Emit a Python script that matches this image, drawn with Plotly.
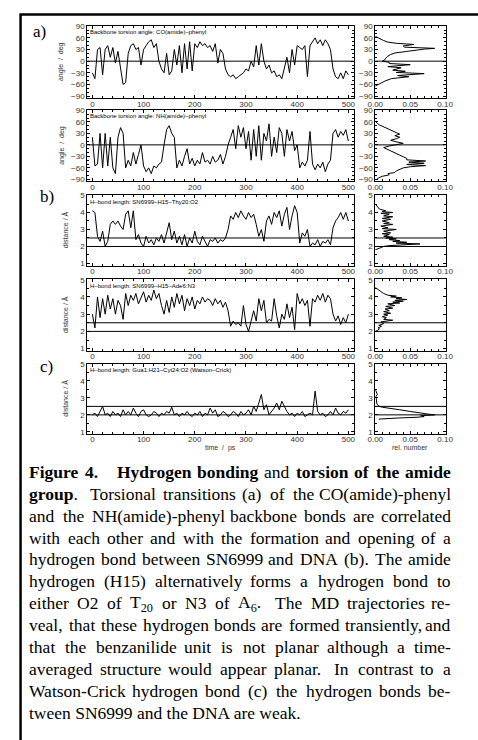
import re
import json
import plotly.graph_objects as go

W, H = 478, 740

# ---------------- data ----------------
time_ps = list(range(0, 501, 5))

co_phenyl_deg = [-30, -45, 30, 35, -35, 30, 40, 10, 35, -5,
                 25, -20, -60, -55, 20, 40, 45, 30, 35, -10,
                 30, 40, 50, 55, 35, 45, 0, -20, -30, 20,
                 -35, -25, 30, -10, 40, -30, 45, -20, 50, -25,
                 45, 35, 50, 40, 45, 35, 40, 25, 45, -5,
                 30, 20, -20, -35, -40, -35, -45, -40, -35, -30,
                 -20, -25, 0, -15, 40, -10, 45, 0, -20, -10,
                 -30, -25, -40, -35, -45, -20, 10, -30, 30, -10,
                 40, 35, 30, 40, -40, 40, 50, 60, 45, 55,
                 40, 55, 45, 30, -20, -40, -45, -30, -45, -25,
                 -35]

nh_phenyl_deg = [20, -55, -50, 30, -60, 30, -55, 20, -60, -75,
                 20, 45, 30, -60, -40, -55, -20, -50, -25, 0,
                 -55, -70, -60, -75, -55, -60, -50, -45, 0, 40,
                 50, 30, 20, -60, -40, -55, -30, -10, -50, -35,
                 -55, -40, -50, -20, -45, -40, -50, -30, -45, -40,
                 -25, -50, -30, 0, 20, 40, -10, 50, 20, 45,
                 -10, 35, -40, 40, -30, 50, -40, 30, 10, 55,
                 -30, 20, -20, 45, 30, -30, 40, 10, 35, -15,
                 0, -60, -45, -55, -40, 35, -50, -65, -50, -60,
                 -45, -70, -50, -40, 30, 40, 20, 35, 25, 40,
                 10]

thy20_o2_A = [4.1, 4.0, 2.6, 2.3, 2.9, 2.0, 2.3, 3.3, 3.5, 3.3,
              3.5, 3.2, 3.0, 3.9, 4.1, 3.1, 4.1, 2.4, 2.7, 2.2,
              2.0, 2.6, 2.2, 2.4, 2.1, 2.5, 2.3, 2.7, 2.2, 2.8,
              3.4, 2.4, 2.9, 2.2, 2.6, 2.1, 2.7, 2.0, 2.5, 2.2,
              2.9, 2.3, 2.1, 2.6, 2.3, 2.0, 2.4, 2.3, 2.5, 2.2,
              2.4, 2.3, 2.5, 3.0, 3.8, 3.6, 4.0, 3.7, 4.1, 3.8,
              3.6, 4.0, 3.7, 3.9, 3.3, 2.6, 3.0, 2.3, 3.5, 3.8,
              3.3, 4.0, 3.7, 4.1, 3.2, 3.9, 4.3, 3.0, 3.8, 4.4,
              4.0, 2.2, 2.8, 2.6, 3.0, 2.0, 2.2, 2.1, 2.4, 2.0,
              2.3, 2.2, 2.4, 2.1, 3.1, 3.5, 3.7, 4.0, 3.6, 4.0,
              3.5]

ade6_n3_A = [3.0, 2.2, 4.0, 2.8, 3.9, 3.0, 4.1, 3.3, 3.9, 3.0,
             3.8, 3.5, 2.7, 4.2, 3.5, 4.1, 3.8, 4.2, 3.6, 4.0,
             4.3, 3.7, 4.1, 3.8, 4.4, 3.9, 4.2, 3.5, 3.0, 3.8,
             3.1, 4.0, 3.4, 4.2, 3.6, 4.1, 3.2, 3.9, 3.5, 4.0,
             3.3, 3.8, 3.6, 4.0, 3.7, 3.9, 3.8, 3.5, 3.9, 3.6,
             3.8, 3.4, 3.7, 3.2, 2.3, 2.6, 2.4, 2.5, 2.3, 3.5,
             2.4, 2.0, 2.7, 3.2, 2.6, 3.9, 3.2, 3.8, 2.5, 2.7,
             2.6, 3.9, 2.9, 2.2, 3.0, 2.7, 3.6, 2.8, 3.4, 2.1,
             4.2, 3.6, 3.9, 3.5, 3.8, 2.3, 3.9, 3.7, 4.1, 3.8,
             4.2, 3.7, 4.1, 3.9, 3.0, 2.6, 2.9, 2.4, 2.8, 2.5,
             3.0]

gua_cyt_A = [2.0, 2.1, 1.9, 2.2, 2.5, 2.0, 2.1, 1.9, 2.2, 2.0,
             2.1, 1.9, 2.3, 2.0, 2.2, 2.0, 2.4, 2.1, 1.9, 2.2,
             2.3, 2.0, 1.9, 2.0, 2.2, 2.1, 1.9, 2.1, 2.0, 2.2,
             2.1, 2.45, 2.0, 2.1, 1.9, 2.1, 2.0, 2.2, 2.0, 1.9,
             2.1, 2.0, 2.2, 1.9, 2.1, 2.0, 2.4, 2.1, 2.3, 1.9,
             2.0, 2.2, 2.1, 1.9, 2.0, 2.2, 2.1, 1.9, 2.2, 2.0,
             2.1, 2.3, 2.0, 2.5, 2.2, 2.7, 3.2, 2.3, 2.6, 2.0,
             2.2, 2.4, 2.7, 2.3, 2.8, 2.5, 2.2, 2.0, 2.1, 1.9,
             2.1, 2.0, 2.2, 1.9, 2.0, 2.1, 2.0, 3.4, 2.2, 2.0,
             2.1, 1.9, 2.0, 2.2, 2.0, 2.4, 2.1, 2.0, 2.2, 2.1,
             2.3]

co_hist_deg = [-64, -59, -51, -45, -40, -37, -32, -29, -26, -23, -17, -14, -9, -6, -3,
               0, 4, 8, 13, 17, 21, 25, 28, 31, 33, 36, 39, 43, 46, 49, 53, 58, 62, 64]
co_hist_rel = [0, 0.005, 0.014, 0.023, 0.048, 0.032, 0.07, 0.03, 0.043, 0.025, 0.037, 0.018, 0.05, 0.02, 0.02,
               0.01, 0.014, 0.015, 0.018, 0.022, 0.028, 0.045, 0.055, 0.07, 0.085, 0.042, 0.04, 0.055, 0.03, 0.018,
               0.012, 0.006, 0.002, 0]

nh_hist_deg = [-90, -86, -82, -78, -75, -72, -68, -64, -60, -57, -54, -51, -48, -45, -42, -39, -35, -31, -27, -23,
               -19, -15, -11, -7, -3, 0, 4, 8, 12, 16, 20, 24, 28, 32, 36, 40, 44, 48, 52, 56, 60, 62]
nh_hist_rel = [0.002, 0.005, 0.01, 0.02, 0.018, 0.028, 0.03, 0.035, 0.04, 0.05, 0.072, 0.045, 0.07, 0.048, 0.072,
               0.045, 0.045, 0.04, 0.035, 0.03, 0.025, 0.02, 0.015, 0.012, 0.02, 0.028, 0.04, 0.03, 0.022, 0.03,
               0.035, 0.028, 0.035, 0.03, 0.025, 0.02, 0.015, 0.01, 0.006, 0.003, 0.001, 0]

thy_hist_A = [1.8, 1.9, 2.0, 2.05, 2.1, 2.15, 2.2, 2.25, 2.3, 2.35, 2.4, 2.45, 2.5, 2.55, 2.6, 2.7, 2.75, 2.8,
              2.9, 3.0, 3.05, 3.1, 3.2, 3.3, 3.35, 3.4, 3.5, 3.6, 3.65, 3.75, 3.8, 3.9, 3.95, 4.0, 4.05, 4.1,
              4.2, 4.3, 4.45, 4.5]
thy_hist_rel = [0, 0.005, 0.012, 0.02, 0.04, 0.064, 0.03, 0.045, 0.025, 0.035, 0.02, 0.03, 0.015, 0.025, 0.012,
                0.02, 0.01, 0.022, 0.012, 0.03, 0.01, 0.018, 0.008, 0.025, 0.012, 0.02, 0.01, 0.022, 0.01, 0.025,
                0.012, 0.02, 0.008, 0.025, 0.01, 0.015, 0.006, 0.004, 0.002, 0]

ade_hist_A = [2.0, 2.05, 2.15, 2.2, 2.3, 2.35, 2.45, 2.55, 2.65, 2.7, 2.8, 2.85, 2.95, 3.0, 3.05, 3.15, 3.2,
              3.3, 3.35, 3.45, 3.5, 3.6, 3.65, 3.7, 3.75, 3.8, 3.85, 3.9, 3.95, 4.0, 4.05, 4.1, 4.2, 4.3, 4.4,
              4.5, 4.55]
ade_hist_rel = [0.0, 0.003, 0.006, 0.004, 0.009, 0.005, 0.012, 0.008, 0.025, 0.012, 0.016, 0.01, 0.018, 0.012,
                0.022, 0.012, 0.02, 0.014, 0.025, 0.015, 0.028, 0.018, 0.035, 0.025, 0.04, 0.028, 0.045, 0.03,
                0.038, 0.022, 0.03, 0.018, 0.012, 0.008, 0.004, 0.001, 0]

gc_hist_A = [1.75, 1.78, 1.82, 1.86, 1.9, 1.95, 2.0, 2.05, 2.1, 2.2, 2.3, 2.38, 2.45, 2.5, 2.6, 2.7, 2.8, 2.9,
             3.0, 3.1, 3.2, 3.3, 3.4, 3.5]
gc_hist_rel = [0.005, 0.015, 0.035, 0.06, 0.07, 0.065, 0.085, 0.075, 0.065, 0.05, 0.035, 0.02, 0.01, 0.006,
               0.003, 0.002, 0.002, 0.001, 0.002, 0.001, 0.003, 0.002, 0.001, 0]

angle_ref_deg = [0]
hbond_ref_A = [2.0, 2.5]

panel_titles = ["Backbone torsion angle: CO(amide)\u2013phenyl",
                "Backbone torsion angle: NH(amide)\u2013phenyl",
                "H\u2013bond length: SN6999\u2013H15\u2013Thy20:O2",
                "H\u2013bond length: SN6999\u2013H15\u2013Ade6:N3",
                "H\u2013bond length: Gua1:H21\u2013Cyt24:O2 (Watson\u2013Crick)"]

caption_lines = [
    "*Figure* *4.*   *Hydrogen* *bonding* and *torsion* *of* *the* *amide*",
    "*group*.  Torsional transitions (a) of the CO(amide)-phenyl",
    "and the NH(amide)-phenyl backbone bonds are correlated",
    "with each other and with the formation and opening of a",
    "hydrogen bond between SN6999 and DNA (b). The amide",
    "hydrogen (H15) alternatively forms a hydrogen bond to",
    "either O2 of T~20~ or N3 of A~6~.  The MD trajectories re-",
    "veal, that these hydrogen bonds are formed transiently, and",
    "that the benzanilide unit is not planar although a time-",
    "averaged structure would appear planar.  In contrast to a",
    "Watson-Crick hydrogen bond (c) the hydrogen bonds be-",
    "tween SN6999 and the DNA are weak.",
]

# ---------------- helpers ----------------
def X(px):
    return px / W


def Y(py):
    return 1 - py / H


SANS = "Liberation Sans, Arial, Helvetica, sans-serif"
SERIF = "Liberation Serif, Times New Roman, serif"
TICK_FONT = dict(family=SANS, size=8, color="#333")

TS_DOM = [X(82), X(358)]
HI_DOM = [X(380), X(453)]
panel_px = [(22, 95), (107, 179), (193, 264), (278, 350), (363, 434)]

series = [
    (co_phenyl_deg, co_hist_deg, co_hist_rel, "angle"),
    (nh_phenyl_deg, nh_hist_deg, nh_hist_rel, "angle"),
    (thy20_o2_A, thy_hist_A, thy_hist_rel, "dist"),
    (ade6_n3_A, ade_hist_A, ade_hist_rel, "dist"),
    (gua_cyt_A, gc_hist_A, gc_hist_rel, "dist"),
]

fig = go.Figure()


def ax_common():
    return dict(showline=True, linecolor="black", linewidth=1, mirror="allticks",
                ticks="inside", ticklen=3, tickwidth=1, tickcolor="black",
                showgrid=False, zeroline=False, tickfont=TICK_FONT, fixedrange=True)


layout = dict(width=W, height=H, margin=dict(l=0, r=0, t=0, b=0),
              paper_bgcolor="white", plot_bgcolor="white", showlegend=False,
              autosize=False)

shapes = []
annotations = []

for i, (ts, hy, hx, kind) in enumerate(series):
    a = 2 * i + 1
    b = 2 * i + 2
    top, bot = panel_px[i]
    ydom = [Y(bot), Y(top)]
    na = "" if a == 1 else str(a)
    nb = str(b)

    fig.add_trace(go.Scatter(x=time_ps, y=ts, mode="lines", xaxis="x" + na, yaxis="y" + na,
                             line=dict(color="black", width=1), hoverinfo="skip"))
    fig.add_trace(go.Scatter(x=hx, y=hy, mode="lines", xaxis="x" + nb, yaxis="y" + nb,
                             line=dict(color="black", width=1), hoverinfo="skip"))

    if kind == "angle":
        yr = dict(range=[-95, 91], tick0=0, dtick=30,
                  minor=dict(ticks="inside", ticklen=2, tickcolor="black", tick0=0, dtick=10, showgrid=False))
        refs = angle_ref_deg
        ytitle = "angle  /  deg"
    else:
        yr = dict(range=[0.88, 5.02], tick0=0, dtick=1,
                  minor=dict(ticks="inside", ticklen=2, tickcolor="black", tick0=0, dtick=0.5, showgrid=False))
        refs = hbond_ref_A
        ytitle = "distance / \u00c5"

    xa = ax_common()
    xa.update(domain=TS_DOM, anchor="y" + na, range=[-10, 511], tick0=0, dtick=100,
              ticklabelstandoff=-2,
              minor=dict(ticks="inside", ticklen=2, tickcolor="black", tick0=0, dtick=20, showgrid=False))
    ya = ax_common()
    ya.update(domain=ydom, anchor="x" + na, **yr)
    xb = ax_common()
    xb.update(domain=HI_DOM, anchor="y" + nb, range=[0, 0.101], tick0=0, dtick=0.05, tickformat=".2f",
              ticklabelstandoff=-2,
              minor=dict(ticks="inside", ticklen=2, tickcolor="black", tick0=0, dtick=0.01, showgrid=False))
    yb = ax_common()
    yb.update(domain=ydom, anchor="x" + nb, **yr)

    layout["xaxis" + na] = xa
    layout["yaxis" + na] = ya
    layout["xaxis" + nb] = xb
    layout["yaxis" + nb] = yb

    for rv in refs:
        for n in (na, nb):
            shapes.append(dict(type="line", xref="x" + n + " domain", yref="y" + n,
                               x0=0, x1=1, y0=rv, y1=rv, line=dict(color="black", width=1)))

    annotations.append(dict(text=panel_titles[i], xref="paper", yref="paper",
                            x=X(85), y=Y(top + 6.5), xanchor="left", yanchor="middle",
                            showarrow=False, font=dict(family=SANS, size=6, color="black"),
                            borderpad=0, borderwidth=0))
    annotations.append(dict(text=ytitle, xref="paper", yref="paper", textangle=-90,
                            x=X(55 if kind == "angle" else 59), y=Y((top + bot) / 2),
                            xanchor="center", yanchor="middle", showarrow=False,
                            font=dict(family=SANS, size=7, color="#333"), borderpad=0, borderwidth=0))

# axis titles of the bottom row
annotations.append(dict(text="time  /  ps", xref="paper", yref="paper", x=X(220), y=Y(448),
                        xanchor="center", yanchor="middle", showarrow=False,
                        font=dict(family=SANS, size=7, color="#333"), borderpad=0, borderwidth=0))
annotations.append(dict(text="rel. number", xref="paper", yref="paper", x=X(416), y=Y(448),
                        xanchor="center", yanchor="middle", showarrow=False,
                        font=dict(family=SANS, size=7, color="#333"), borderpad=0, borderwidth=0))

# panel letters
for lab, lx, ly in (("a)", 26, 28), ("b)", 33, 194), ("c)", 33, 366)):
    annotations.append(dict(text=lab, xref="paper", yref="paper", x=X(lx), y=Y(ly),
                            xanchor="left", yanchor="middle", showarrow=False,
                            font=dict(family=SERIF, size=17, color="black"), borderpad=0, borderwidth=0))

# outer frame (left and top edges)
shapes.append(dict(type="path", xref="paper", yref="paper",
                   path=f"M {X(13)},{Y(750)} L {X(13)},{Y(10.5)} L {X(490)},{Y(10.5)}",
                   line=dict(color="black", width=2.5)))

# ---------------- caption (justified) ----------------
R = {' ': 250, '(': 333, ')': 333, '-': 333, '.': 250, ',': 250, ':': 278}
for d in "0123456789":
    R[d] = 500
R.update({'A': 722, 'B': 667, 'C': 667, 'D': 722, 'E': 611, 'F': 556, 'G': 722, 'H': 722, 'I': 333,
          'J': 389, 'K': 722, 'L': 611, 'M': 889, 'N': 722, 'O': 722, 'P': 556, 'Q': 722, 'R': 667,
          'S': 556, 'T': 611, 'U': 722, 'V': 722, 'W': 944, 'X': 722, 'Y': 722, 'Z': 611,
          'a': 444, 'b': 500, 'c': 444, 'd': 500, 'e': 444, 'f': 333, 'g': 500, 'h': 500, 'i': 278,
          'j': 278, 'k': 500, 'l': 278, 'm': 778, 'n': 500, 'o': 500, 'p': 500, 'q': 500, 'r': 333,
          's': 389, 't': 278, 'u': 500, 'v': 500, 'w': 722, 'x': 500, 'y': 500, 'z': 444})
BD = {'F': 611, 'H': 778, 'a': 500, 'b': 556, 'c': 444, 'd': 556, 'e': 444, 'f': 333, 'g': 500,
      'h': 556, 'i': 278, 'l': 278, 'm': 833, 'n': 556, 'o': 500, 'p': 556, 'r': 444, 's': 389,
      't': 333, 'u': 556, 'y': 500, '4': 500, '.': 250}

FS = 17.5


def word_html(word):
    html, w = "", 0.0
    bold = sub = False
    for ch in word:
        if ch == '*':
            html += '</b>' if bold else '<b>'
            bold = not bold
            continue
        if ch == '~':
            html += '</sub>' if sub else '<sub>'
            sub = not sub
            continue
        cw = BD.get(ch, R.get(ch, 500)) if bold else R.get(ch, 500)
        w += round(cw * FS * (0.7 if sub else 1.0) / 1000)
        html += ch
    return html, w


CAP_L, CAP_R = 22, 458
CAP_Y0, CAP_DY = 472, 22.2
GAP_NAT = {1: 250, 2: 400, 3: 1000}
GAP_STR = {1: 1.0, 2: 1.6, 3: 1.0}
cap_font = dict(family=SERIF, size=FS, color="black")
just_groups = []

for li, line in enumerate(caption_lines):
    yy = Y(CAP_Y0 + li * CAP_DY)
    if li == len(caption_lines) - 1:
        annotations.append(dict(text=word_html(line)[0], xref="paper", yref="paper", x=X(CAP_L), y=yy,
                                xanchor="left", yanchor="middle", showarrow=False, font=cap_font,
                                borderpad=0, borderwidth=0))
        continue
    toks = re.split(r'( +)', line)
    words = [word_html(t) for t in toks[0::2]]
    gaps = [len(g) for g in toks[1::2]]
    nat = sum(w for _, w in words) + sum(GAP_NAT[g] for g in gaps) * FS / 1000
    extra = (CAP_R - CAP_L) - nat
    ssum = sum(GAP_STR[g] for g in gaps)
    xcur = CAP_L
    grp = dict(idx=[], gap=[GAP_NAT[g] * FS / 1000 for g in gaps], str=[GAP_STR[g] for g in gaps])
    for j, (html, w) in enumerate(words):
        grp["idx"].append(len(annotations))
        if j == len(words) - 1:
            annotations.append(dict(text=html, xref="paper", yref="paper", x=X(CAP_R), y=yy,
                                    xanchor="right", yanchor="middle", showarrow=False, font=cap_font,
                                    borderpad=0, borderwidth=0))
        else:
            annotations.append(dict(text=html, xref="paper", yref="paper", x=X(xcur), y=yy,
                                    xanchor="left", yanchor="middle", showarrow=False, font=cap_font,
                                    borderpad=0, borderwidth=0))
            g = gaps[j]
            xcur += w + GAP_NAT[g] * FS / 1000 + extra * GAP_STR[g] / ssum
    just_groups.append(grp)

layout["shapes"] = shapes
layout["annotations"] = annotations
fig.update_layout(**layout)

# justify caption lines using the real rendered word widths
post_js = """
(function(){
  var gd = document.getElementById('{plot_id}');
  var groups = GROUPS;
  var L = CAPL, R = CAPR, W = WIDTH;
  var upd = {};
  groups.forEach(function(g){
    var ws = [];
    for (var k = 0; k < g.idx.length; k++) {
      var el = gd.querySelector('g.annotation[data-index="' + g.idx[k] + '"] text');
      if (!el) { return; }
      ws.push(el.getBBox().width);
    }
    var nat = 0, ssum = 0;
    ws.forEach(function(w){ nat += w; });
    g.gap.forEach(function(v){ nat += v; });
    g.str.forEach(function(v){ ssum += v; });
    var extra = (R - L) - nat;
    var x = L;
    for (var j = 0; j < g.idx.length - 1; j++) {
      upd['annotations[' + g.idx[j] + '].x'] = x / W;
      x += ws[j] + g.gap[j] + extra * g.str[j] / ssum;
    }
  });
  Plotly.relayout(gd, upd);
  document.body.style.margin = '0';
  document.body.style.overflow = 'hidden';
})();
"""
post_js = (post_js.replace("GROUPS", json.dumps(just_groups))
           .replace("CAPL", str(CAP_L)).replace("CAPR", str(CAP_R)).replace("WIDTH", str(W)))

fig.write_html("out.html", config={"displayModeBar": False, "staticPlot": True},
               post_script=post_js)
